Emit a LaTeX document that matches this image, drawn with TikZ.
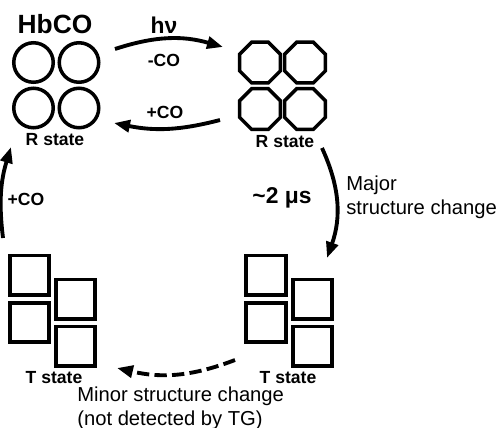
\documentclass[tikz,border=0pt]{standalone}
\usepackage{fontspec}
\setmainfont{Liberation Sans}
\usetikzlibrary{arrows.meta,shapes.geometric}

\begin{document}
\begin{tikzpicture}[x=0.02cm, y=0.02cm, >={Triangle[length=0.32cm, width=0.24cm]},
    circ/.style={draw, circle, line width=2pt, minimum size=0.79cm, inner sep=0pt},
    oct/.style={draw, regular polygon, regular polygon sides=8, line width=2pt,
        minimum size=0.88cm, inner sep=0pt},
    sq/.style={draw, rectangle, line width=2pt, minimum size=0.79cm, inner sep=0pt},
    lab/.style={font=\fontsize{10}{12}\selectfont\bfseries, inner sep=1pt},
    note/.style={font=\fontsize{11.5}{13.5}\selectfont, align=left, inner sep=0pt},
    flow/.style={->, line width=2.2pt}]
  \useasboundingbox (0,0) rectangle (501,-427);
  % ---------------- liganded R state ----------------
  \node[circ] (C1) at (33.5,-62.5) {};
  \node[circ] (C2) at (79,-62.5) {};
  \node[circ] (C3) at (33.5,-108) {};
  \node[circ] (C4) at (79,-108) {};
  \node[font=\fontsize{15}{17}\selectfont\bfseries] (H) at (55,-24) {HbCO};
  \node[lab] (RL) at (55,-140) {R state};
  % ---------------- photolysed R state ----------------
  \node[oct] (O1) at (260,-62.5) {};
  \node[oct] (O2) at (305,-62.5) {};
  \node[oct] (O3) at (260,-109) {};
  \node[oct] (O4) at (305,-109) {};
  \node[lab] (RR) at (285,-142) {R state};
  % ---------------- T states ----------------
  \node[sq] (T1) at (29.5,-275) {};
  \node[sq] (T2) at (29.5,-322.5) {};
  \node[sq] (T3) at (75.5,-299) {};
  \node[sq] (T4) at (75.5,-346) {};
  \node[lab] (TL) at (54,-378) {T state};
  \node[sq] (U1) at (266,-275) {};
  \node[sq] (U2) at (266,-322.5) {};
  \node[sq] (U3) at (312.5,-299) {};
  \node[sq] (U4) at (312.5,-346) {};
  \node[lab] (TR) at (288,-378) {T state};
  % ends of the arrows
  \coordinate (p1) at (115,-49);
  \coordinate (p2) at (223,-47);
  \coordinate (p3) at (220,-120);
  \coordinate (p4) at (114,-123);
  \coordinate (p5) at (322,-148);
  \coordinate (p6) at (327,-258);
  \coordinate (p7) at (235,-360);
  \coordinate (p8) at (117,-368);
  \coordinate (p9) at (3,-238);
  \coordinate (p10) at (11,-147);
  % ---------------- arrows and their labels ----------------
  \draw[flow] (p1) to[bend left=17] (p2);
  \node[font=\fontsize{13}{15}\selectfont\bfseries] (hv) at (164,-25) {hν};
  \node[lab] (mCO) at (164,-60) {-CO};
  \draw[flow] (p3) to[bend left=13] (p4);
  \node[lab] (pCO) at (165,-112) {+CO};
  \draw[flow] (p5) to[bend left=22] (p6);
  \node[font=\fontsize{13}{15}\selectfont\bfseries] (tau) at (282,-198) {\textasciitilde2 μs};
  \node[note, anchor=west] (maj) at (346,-197) {Major\\structure change};
  \draw[flow, dash pattern=on 7pt off 3pt] (p7) to[bend left=17] (p8);
  \node[note, anchor=west] (min) at (77,-408) {Minor structure change\\(not detected by TG)};
  \draw[flow] (p9) to[bend left=12] (p10);
  \node[lab] (lCO) at (26,-199) {+CO};
\end{tikzpicture}
\end{document}
